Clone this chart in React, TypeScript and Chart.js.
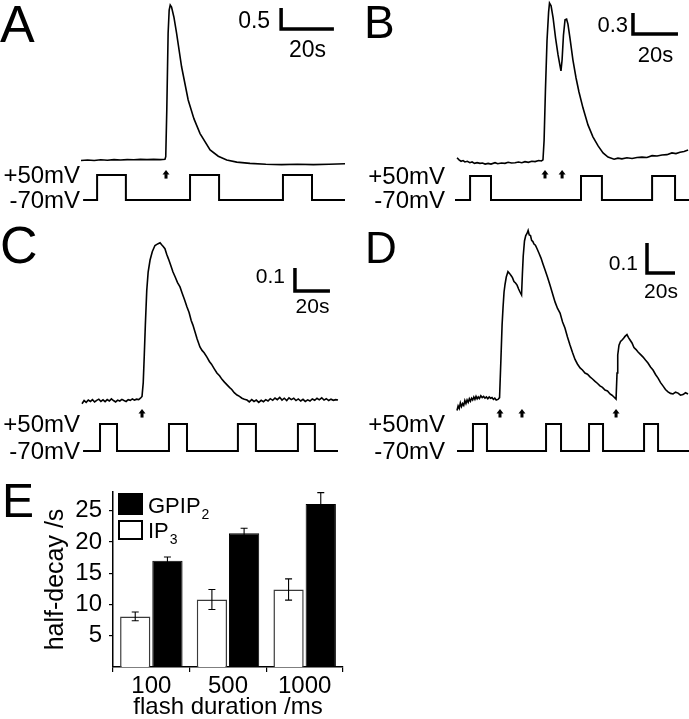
import React, { useEffect, useRef } from "react";
import { Chart, registerables } from "chart.js";

Chart.register(...registerables);

const FONT = "'Liberation Sans', Arial, Helvetica, sans-serif";
Chart.defaults.font.family = FONT;
Chart.defaults.color = "#000";

// Voltage protocol levels (mV)
const V_HOLD = -70;
const V_STEP = 50;

// ---------------- Panel A ----------------
const traceA: number[][] = [
  [0, -0.01], [2.5, 0.0], [5, -0.01], [7.5, 0.005], [10, -0.005], [12.5, 0.01], [15, 0.0],
  [17.5, 0.01], [20, 0.005], [22.5, 0.015], [25, 0.01], [27.5, 0.015], [30, 0.01], [31.8, 0.02],
  [32.1, 0.08], [32.5, 1.2], [33.0, 3.02], [33.4, 3.57], [33.8, 3.69], [34.3, 3.64], [35.2, 3.4],
  [36.2, 3.02], [38.1, 2.22], [40.6, 1.43], [42.8, 0.98], [45.1, 0.63], [48.9, 0.24], [52, 0.09],
  [55.2, 0.0], [59, -0.05], [64, -0.08], [70, -0.1], [76, -0.11], [82, -0.1], [88, -0.11],
  [94, -0.1], [100, -0.09],
];
const pulsesA: number[][] = [[6.1, 17.0], [41.3, 52.3], [76.5, 87.5]];
const protocolA: number[] = [0.8, 100];
const arrowsA: number[] = [32.2];
const barSizeA: number[] = [0.5, 20];

// ---------------- Panel B ----------------
const traceB: number[][] = [
  [0.9, 0.06], [1.8, 0.03], [2.7, 0.01], [3.6, 0.02], [4.4, 0.0], [5.5, 0.01], [6.6, -0.01],
  [7.6, 0.0], [8.7, -0.02], [9.8, -0.01], [11.1, -0.02], [12.2, -0.015], [13.4, -0.03],
  [14.7, -0.02], [16, -0.03], [17.8, -0.01], [19, -0.025], [20.6, -0.015], [22.2, -0.02],
  [23.6, -0.005], [25.1, -0.015], [26.7, -0.01], [28.2, 0.0], [29.7, -0.01], [31.1, 0.005],
  [32.6, -0.005], [34.1, 0.01], [35.6, 0.005], [37.2, 0.02], [38.4, 0.015], [39.1, 0.03],
  [39.6, 0.31], [40.2, 1.03], [40.9, 1.74], [41.6, 2.14], [42.0, 2.27], [42.7, 2.23],
  [43.6, 2.06], [44.7, 1.77], [45.8, 1.53], [46.7, 1.37], [47.1, 1.3], [47.6, 1.46],
  [48.2, 1.81], [48.9, 2.03], [49.6, 2.04], [50.2, 1.97], [51.1, 1.77], [52.4, 1.46],
  [53.8, 1.2], [55.1, 1.0], [56.9, 0.77], [59.1, 0.53], [61.3, 0.36], [63.6, 0.23],
  [65.8, 0.13], [68.0, 0.07], [70.7, 0.04], [72.4, 0.055], [74.2, 0.045], [76.4, 0.06],
  [78.7, 0.05], [80.9, 0.065], [83.1, 0.07], [85.3, 0.065], [87.6, 0.09], [89.8, 0.085],
  [92.0, 0.1], [94.2, 0.105], [96.4, 0.13], [98.2, 0.12], [100.0, 0.14], [101.8, 0.15],
  [103.6, 0.17],
];
const pulsesB: number[][] = [[6.7, 16.0], [56.0, 65.3], [87.6, 97.8]];
const protocolB: number[] = [0, 104];
const arrowsB: number[] = [40.0, 47.6];
const barSizeB: number[] = [0.3, 20];

// ---------------- Panel C ----------------
const traceC: number[][] = [
  [0, -0.012], [1.2, 0.002], [2.4, -0.006], [3.6, 0.004], [4.8, -0.002], [6.0, 0.006],
  [7.2, -0.004], [8.4, 0.003], [9.6, 0.008], [10.8, -0.002], [12, 0.005], [13.2, -0.003],
  [14.4, 0.006], [15.6, 0.0], [16.8, 0.009], [18, 0.002], [19.2, -0.004], [20.4, 0.004],
  [21.6, 0.0], [22.8, 0.007], [24, 0.002], [25.2, -0.002], [26.4, 0.006], [27.6, 0.003],
  [28.8, 0.009], [30, 0.004], [31.2, 0.008], [32.4, 0.006], [33.4, 0.012], [34.3, 0.02],
  [35.0, 0.08], [35.6, 0.2], [36.2, 0.33], [37.0, 0.48], [37.8, 0.56], [38.9, 0.613],
  [40.2, 0.65], [41.7, 0.676], [43.5, 0.684], [44.6, 0.688], [45.4, 0.68], [46.3, 0.673],
  [47.4, 0.662], [48.4, 0.638], [49.4, 0.618], [50.6, 0.592], [52, 0.561], [53.2, 0.54],
  [54.6, 0.515], [56, 0.496], [57.2, 0.47], [58.6, 0.44], [60, 0.409], [61.2, 0.385],
  [62.4, 0.35], [63.4, 0.33], [64.6, 0.3], [65.8, 0.27], [67.4, 0.235], [68.6, 0.22],
  [69.8, 0.21], [71.4, 0.191], [72.8, 0.172], [74, 0.16], [75.6, 0.14], [77.1, 0.122],
  [78.6, 0.11], [80, 0.094], [81.4, 0.082], [82.9, 0.07], [84.4, 0.058], [85.6, 0.05],
  [87, 0.036], [88.6, 0.026], [90, 0.02], [91.4, 0.012], [92.8, 0.008], [94.3, 0.004],
  [95.6, -0.004], [97, 0.006], [98.3, -0.002], [99.6, 0.004], [101, -0.006], [102.4, 0.003],
  [103.7, -0.003], [105, 0.006], [106.3, 0.0], [107.6, 0.01], [109, 0.003], [110.3, 0.013],
  [111.6, 0.006], [113, 0.016], [114.3, 0.004], [115.6, 0.012], [117, 0.002], [118.3, 0.014],
  [119.6, 0.006], [121, 0.012], [122.3, 0.002], [123.6, 0.009], [125, 0.0], [126.3, 0.007],
  [127.6, -0.002], [129, 0.005], [130.3, 0.0], [131.6, 0.009], [133, 0.003], [134.3, 0.012],
  [135.6, 0.005], [137, 0.014], [138.3, 0.004], [139.6, 0.01], [141, 0.002], [142.3, 0.008],
  [143.6, 0.003], [145, 0.006], [146.3, 0.004],
];
const pulsesC: number[][] = [[10.3, 20.0], [49.7, 60.0], [89.1, 99.4], [123.4, 133.1]];
const protocolC: number[] = [0.6, 146.3];
const arrowsC: number[] = [34.3];
const barSizeC: number[] = [0.1, 20];

// ---------------- Panel D ----------------
const traceD: number[][] = [
  [0, -0.035], [0.8, -0.02], [1.6, -0.028], [2.4, -0.01], [3.2, -0.022], [4, -0.012],
  [4.8, -0.018], [5.6, -0.002], [6.4, -0.012], [7.2, 0.0], [8, -0.008], [8.8, 0.004],
  [9.6, -0.004], [10.4, 0.006], [11.2, 0.0], [12, 0.01], [12.8, 0.002], [13.6, 0.012],
  [14.4, 0.004], [15.2, 0.01], [16, 0.005], [17, 0.014], [18, 0.008], [19, 0.012], [20, 0.006],
  [21, 0.01], [22, 0.004], [23, 0.01], [24, 0.006], [25, 0.008], [26, 0.002], [27, 0.006],
  [28, 0.0], [29.3, 0.002], [30.4, 0.008], [31.4, 0.14], [32.2, 0.25], [32.9, 0.31],
  [33.6, 0.36], [34.3, 0.385], [35.2, 0.41], [36.4, 0.428], [37.5, 0.422], [38.6, 0.415],
  [39.6, 0.408], [40.7, 0.395], [41.8, 0.39], [42.9, 0.383], [44, 0.37], [45, 0.36],
  [46.1, 0.35], [46.7, 0.42], [47.3, 0.48], [48.2, 0.53], [49.1, 0.548], [50, 0.555],
  [50.8, 0.565], [51.6, 0.55], [52.5, 0.548], [53.3, 0.532], [54.2, 0.528], [55, 0.52],
  [56, 0.516], [57.1, 0.505], [58.5, 0.49], [60, 0.473], [61.4, 0.453], [62.9, 0.433],
  [64.6, 0.41], [66.4, 0.383], [68.2, 0.355], [70, 0.327], [71.8, 0.305], [73.6, 0.29],
  [75.4, 0.26], [77.1, 0.24], [78.9, 0.21], [80.7, 0.183], [82.5, 0.158], [84.3, 0.135],
  [86, 0.12], [87.9, 0.107], [89.6, 0.1], [91.4, 0.09], [93.2, 0.086], [95, 0.077],
  [96.8, 0.07], [98.6, 0.062], [100.4, 0.055], [102.1, 0.047], [103.9, 0.042], [105.7, 0.033],
  [107.5, 0.03], [109.3, 0.02], [110.7, 0.016], [112.1, 0.01], [113.6, 0.003], [114.3, 0.09],
  [114.8, 0.15], [115.7, 0.183], [116.8, 0.195], [117.9, 0.2], [119, 0.206], [120, 0.212],
  [121.4, 0.218], [122.5, 0.208], [123.6, 0.2], [125, 0.19], [126.4, 0.175], [127.9, 0.168],
  [129.3, 0.16], [131, 0.152], [132.9, 0.143], [134.6, 0.133], [136.4, 0.123], [138.2, 0.11],
  [140, 0.1], [141.8, 0.085], [143.6, 0.073], [145.4, 0.058], [147.1, 0.047], [148.9, 0.035],
  [150.7, 0.027], [152.5, 0.022], [154.3, 0.02], [156.1, 0.026], [157.9, 0.023], [159.6, 0.016],
  [161.4, 0.018], [163.2, 0.024], [165, 0.02],
];
const pulsesD: number[][] = [[11.4, 21.4], [63.6, 74.3], [94.3, 104.3], [133.6, 143.6]];
const protocolD: number[] = [0, 165.7];
const arrowsD: number[] = [30.7, 46.4, 113.6];
const barSizeD: number[] = [0.1, 20];

// ---------------- Panel E ----------------
const categoriesE: string[] = ["100", "500", "1000"];
const ip3Mean: number[] = [8.1, 10.8, 12.4];
const ip3Err: number[] = [0.7, 1.6, 1.7];
const gpip2Mean: number[] = [17.0, 21.4, 26.1];
const gpip2Err: number[] = [0.6, 0.8, 1.8];
const seriesNames: string[][] = [["IP", "3"], ["GPIP", "2"]];
const yTicksE: number[] = [5, 10, 15, 20, 25];

type PanelCfg = {
  letter: string; letterSize: number; letterX: number; letterY: number;
  padLeft: number; padRight: number; tMax: number;
  yMin: number; yMax: number; vMin: number; vMax: number;
  labelGap: number; arrowV: number;
  barT: number; barV: number; barFont: number; barValueGap: number; barValueDy: number; barTimeDy: number;
};

function buildProtocol(span: number[], pulses: number[][]) {
  const pts: { x: number; y: number }[] = [{ x: span[0], y: V_HOLD }];
  for (const [on, off] of pulses) {
    pts.push({ x: on, y: V_HOLD }, { x: on, y: V_STEP }, { x: off, y: V_STEP }, { x: off, y: V_HOLD });
  }
  pts.push({ x: span[1], y: V_HOLD });
  return pts;
}

function makeTraceConfig(trace: number[][], pulses: number[][], span: number[], arrows: number[], barSize: number[], p: PanelCfg): any {
  const [dF, dt] = barSize;
  const plugin = {
    id: "traceAnnot",
    afterDraw(chart: any) {
      const { ctx, scales } = chart;
      const x = scales.x, y = scales.y, yv = scales.yv;
      ctx.save();
      ctx.fillStyle = "#000";
      ctx.textAlign = "left";
      ctx.textBaseline = "alphabetic";
      ctx.font = `${p.letterSize}px ${FONT}`;
      ctx.fillText(p.letter, p.letterX, p.letterY);
      ctx.font = `24px ${FONT}`;
      ctx.textAlign = "right";
      ctx.textBaseline = "middle";
      const lx = x.getPixelForValue(span[0]) - p.labelGap;
      ctx.fillText(`+${V_STEP}mV`, lx, yv.getPixelForValue(V_STEP) + 1);
      ctx.fillText(`${V_HOLD}mV`, lx, yv.getPixelForValue(V_HOLD) + 1);
      for (const t of arrows) {
        const ax = x.getPixelForValue(t);
        const ay = y.getPixelForValue(p.arrowV);
        ctx.beginPath();
        ctx.moveTo(ax, ay);
        ctx.lineTo(ax - 3.5, ay + 4.5);
        ctx.lineTo(ax + 3.5, ay + 4.5);
        ctx.closePath();
        ctx.fill();
        ctx.fillRect(ax - 1.5, ay + 4, 3, 4.5);
      }
      const bx = x.getPixelForValue(p.barT);
      const by = y.getPixelForValue(p.barV);
      ctx.font = `${p.barFont}px ${FONT}`;
      ctx.textAlign = "right";
      ctx.textBaseline = "alphabetic";
      ctx.fillText(String(dF), bx - p.barValueGap, by + p.barValueDy);
      ctx.textAlign = "center";
      ctx.fillText(`${dt}s`, x.getPixelForValue(p.barT + dt / 2), by + p.barTimeDy);
      ctx.restore();
    },
  };
  return {
    type: "line",
    data: {
      datasets: [
        {
          data: trace.map(([t, v]) => ({ x: t, y: v })),
          borderColor: "#000", borderWidth: 1.6, pointRadius: 0, yAxisID: "y", clip: false,
        },
        {
          data: buildProtocol(span, pulses),
          borderColor: "#000", borderWidth: 2, pointRadius: 0, yAxisID: "yv", clip: false,
          borderJoinStyle: "miter",
        },
        {
          data: [
            { x: p.barT, y: p.barV + dF },
            { x: p.barT, y: p.barV },
            { x: p.barT + dt, y: p.barV },
          ],
          borderColor: "#000", borderWidth: 3.5, pointRadius: 0, yAxisID: "y", clip: false,
          borderJoinStyle: "miter", borderCapStyle: "butt",
        },
      ],
    },
    options: {
      responsive: false,
      animation: false,
      events: [],
      layout: { padding: { left: p.padLeft, right: p.padRight, top: 0, bottom: 0 } },
      plugins: { legend: { display: false }, tooltip: { enabled: false } },
      elements: { line: { tension: 0 }, point: { radius: 0 } },
      scales: {
        x: { type: "linear", display: false, min: 0, max: p.tMax },
        y: { type: "linear", display: false, min: p.yMin, max: p.yMax },
        yv: { type: "linear", display: false, min: p.vMin, max: p.vMax },
      },
    },
    plugins: [plugin],
  };
}

function makeBarConfig(): any {
  const means = [ip3Mean, gpip2Mean];
  const errs = [ip3Err, gpip2Err];
  const plugin = {
    id: "barAnnot",
    afterDraw(chart: any) {
      const { ctx, chartArea, scales } = chart;
      const ys = scales.y;
      ctx.save();
      ctx.strokeStyle = "#000";
      ctx.lineWidth = 1.1;
      chart.data.datasets.forEach((_: any, i: number) => {
        const meta = chart.getDatasetMeta(i);
        meta.data.forEach((bar: any, j: number) => {
          const x = bar.x;
          const top = ys.getPixelForValue(means[i][j] + errs[i][j]);
          const bot = ys.getPixelForValue(means[i][j] - errs[i][j]);
          ctx.beginPath();
          ctx.moveTo(x, top); ctx.lineTo(x, bot);
          ctx.moveTo(x - 3.5, top); ctx.lineTo(x + 3.5, top);
          ctx.moveTo(x - 3.5, bot); ctx.lineTo(x + 3.5, bot);
          ctx.stroke();
        });
      });
      ctx.fillStyle = "#000";
      ctx.font = `48px ${FONT}`;
      ctx.textAlign = "left";
      ctx.textBaseline = "alphabetic";
      ctx.fillText("E", 2, 57);
      const L = chartArea.left, T = chartArea.top;
      ctx.fillStyle = "#000";
      ctx.fillRect(L + 5, T + 1, 25, 22);
      ctx.fillStyle = "#fff";
      ctx.fillRect(L + 5, T + 28, 25, 20);
      ctx.strokeStyle = "#000";
      ctx.lineWidth = 2;
      ctx.strokeRect(L + 6, T + 29, 23, 18);
      ctx.fillStyle = "#000";
      const rows = [
        { name: seriesNames[1], base: T + 21 },
        { name: seriesNames[0], base: T + 46 },
      ];
      for (const r of rows) {
        ctx.font = `22px ${FONT}`;
        ctx.fillText(r.name[0], L + 35, r.base);
        const w = ctx.measureText(r.name[0]).width;
        ctx.font = `14px ${FONT}`;
        ctx.fillText(r.name[1], L + 35 + w + 1, r.base + 6);
      }
      ctx.restore();
    },
  };
  return {
    type: "bar",
    data: {
      labels: categoriesE,
      datasets: [
        {
          label: seriesNames[0].join(""),
          data: ip3Mean,
          backgroundColor: "#fff",
          borderColor: "#3a3a3a",
          borderWidth: 1.5,
          categoryPercentage: 0.84,
          barPercentage: 0.94,
        },
        {
          label: seriesNames[1].join(""),
          data: gpip2Mean,
          backgroundColor: "#000",
          borderColor: "#000",
          borderWidth: 1,
          categoryPercentage: 0.84,
          barPercentage: 0.94,
        },
      ],
    },
    options: {
      responsive: false,
      animation: false,
      events: [],
      layout: { padding: { left: 38, right: 2, top: 32, bottom: 0 } },
      plugins: { legend: { display: false }, tooltip: { enabled: false } },
      scales: {
        x: {
          type: "category",
          grid: { display: true, drawOnChartArea: false, drawTicks: true, tickLength: 5, color: "#000", lineWidth: 1.2 },
          border: { display: true, color: "#000", width: 1.5 },
          ticks: { color: "#000", font: { size: 24, family: FONT, lineHeight: 1 }, padding: 2 },
          title: {
            display: true, text: "flash duration /ms", color: "#000",
            font: { size: 24, family: FONT, lineHeight: 1 }, padding: { top: 0, bottom: 0 },
          },
          afterFit: (s: any) => { s.height = 52; },
        },
        y: {
          type: "linear",
          min: 0,
          max: 28,
          afterBuildTicks: (s: any) => { s.ticks = yTicksE.map((v) => ({ value: v })); },
          grid: { display: true, drawOnChartArea: false, drawTicks: true, tickLength: 4, color: "#000", lineWidth: 1.2 },
          border: { display: true, color: "#000", width: 1.5 },
          ticks: { color: "#000", font: { size: 24, family: FONT }, padding: 7 },
          title: {
            display: true, text: "half-decay /s", color: "#000",
            font: { size: 25, family: FONT, lineHeight: 1.2 }, padding: { top: 3, bottom: 0 },
          },
          afterFit: (s: any) => { s.width = 75; },
        },
      },
    },
    plugins: [plugin],
  };
}

function ChartCanvas({ left, top, width, height, make }: { left: number; top: number; width: number; height: number; make: () => any }) {
  const ref = useRef<HTMLCanvasElement | null>(null);
  useEffect(() => {
    if (!ref.current) return;
    const chart = new Chart(ref.current, make());
    return () => chart.destroy();
  }, []);
  return (
    <canvas
      ref={ref}
      width={width}
      height={height}
      style={{ position: "absolute", left, top, width, height }}
    />
  );
}

const cfgA: PanelCfg = {
  letter: "A", letterSize: 52, letterX: 0, letterY: 42,
  padLeft: 81, padRight: 0, tMax: 100, yMin: -1.19, yMax: 3.81, vMin: -118, vMax: 890,
  labelGap: 3, arrowV: -0.24, barT: 75.8, barV: 3.12, barFont: 23, barValueGap: 11, barValueDy: -1, barTimeDy: 28,
};
const cfgB: PanelCfg = {
  letter: "B", letterSize: 46, letterX: 19, letterY: 38,
  padLeft: 110, padRight: 0, tMax: 104, yMin: -0.686, yMax: 2.314, vMin: -120, vMax: 930,
  labelGap: 10, arrowV: -0.114, barT: 79.1, barV: 1.83, barFont: 22, barValueGap: 5, barValueDy: -2, barTimeDy: 28,
};
const cfgC: PanelCfg = {
  letter: "C", letterSize: 52, letterX: 0, letterY: 53,
  padLeft: 82, padRight: 7, tMax: 146.3, yMin: -0.2565, yMax: 0.8304, vMin: -110, vMax: 1001,
  labelGap: 3, arrowV: -0.035, barT: 121.7, barV: 0.478, barFont: 21, barValueGap: 10, barValueDy: -8, barTimeDy: 22,
};
const cfgD: PanelCfg = {
  letter: "D", letterSize: 44, letterX: 20, letterY: 53,
  padLeft: 112, padRight: 0, tMax: 165.7, yMin: -0.2, yMax: 0.6333, vMin: -110, vMax: 1001,
  labelGap: 12, arrowV: -0.03, barT: 135.7, barV: 0.423, barFont: 21, barValueGap: 9, barValueDy: -3, barTimeDy: 25,
};

export default function App() {
  return (
    <div style={{ position: "fixed", left: 0, top: 0, width: 689, height: 719, background: "#fff", overflow: "hidden" }}>
      <ChartCanvas left={0} top={0} width={345} height={210}
        make={() => makeTraceConfig(traceA, pulsesA, protocolA, arrowsA, barSizeA, cfgA)} />
      <ChartCanvas left={345} top={0} width={344} height={210}
        make={() => makeTraceConfig(traceB, pulsesB, protocolB, arrowsB, barSizeB, cfgB)} />
      <ChartCanvas left={0} top={210} width={345} height={250}
        make={() => makeTraceConfig(traceC, pulsesC, protocolC, arrowsC, barSizeC, cfgC)} />
      <ChartCanvas left={345} top={210} width={344} height={250}
        make={() => makeTraceConfig(traceD, pulsesD, protocolD, arrowsD, barSizeD, cfgD)} />
      <ChartCanvas left={0} top={460} width={345} height={259} make={makeBarConfig} />
    </div>
  );
}
